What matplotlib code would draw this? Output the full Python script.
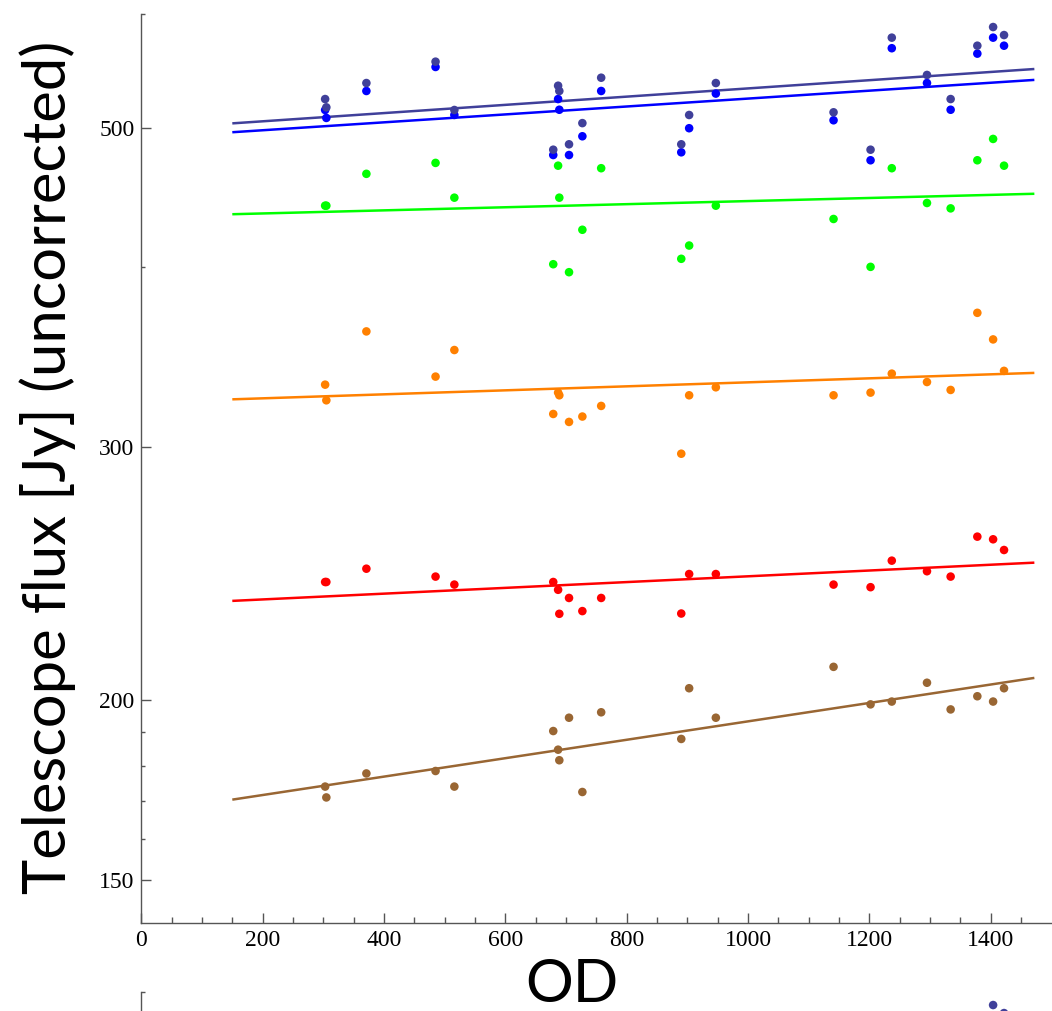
import numpy as np
import matplotlib
matplotlib.use('Agg')
import matplotlib.pyplot as plt
from matplotlib.ticker import FixedLocator, FixedFormatter, NullFormatter

# operational days; ~304 and ~688 each hold two pointings
od = [303, 305, 371, 485, 516, 679, 687, 689, 705, 727, 758,
      890, 903, 947, 1141, 1202, 1237, 1295, 1334, 1378, 1404, 1422]

flux_navy = [523.6, 516.7, 537.2, 555.9, 514.5, 482.8, 534.9, 530.4, 487.0, 503.8, 541.8,
             487.0, 510.4, 537.2, 512.6, 482.8, 577.7, 544.2, 523.6, 570.3, 587.6, 580.1]
flux_blue = [514.5, 508.0, 530.4, 551.2, 510.4, 478.7, 523.6, 514.7, 478.7, 493.3, 530.4,
             480.8, 499.7, 528.2, 506.1, 474.7, 568.0, 537.2, 514.7, 563.1, 577.7, 570.3]
flux_green = [441.4, 441.4, 464.5, 472.7, 447.1, 401.9, 470.6, 447.1, 396.8, 424.7, 468.7,
              405.4, 414.1, 441.4, 432.1, 400.2, 468.7, 443.3, 439.5, 474.7, 491.2, 470.6]
flux_orange = [331.4, 323.2, 360.9, 335.7, 350.3, 316.2, 327.2, 325.8, 312.2, 314.9, 320.3,
               296.7, 325.8, 330.0, 325.8, 327.2, 337.3, 332.8, 328.6, 371.8, 356.3, 338.8]
flux_red = [241.6, 241.6, 246.8, 243.7, 240.6, 241.6, 238.6, 229.6, 235.5, 230.6, 235.5,
            229.7, 244.7, 244.7, 240.6, 239.6, 250.0, 245.8, 243.7, 259.8, 258.7, 254.3]
flux_brown = [174.1, 171.1, 177.8, 178.5, 174.1, 190.3, 184.7, 181.6, 194.4, 172.6, 196.1,
              187.9, 203.8, 194.4, 210.9, 198.6, 199.5, 205.6, 197.0, 201.2, 199.5, 203.8]

# straight-line fits, given at the two ends of the fitted OD range
fit_od = [150, 1472]
fit_navy = [503.6, 549.4]
fit_blue = [496.5, 539.9]
fit_green = [435.4, 449.9]
fit_orange = [323.7, 337.7]
fit_red = [234.4, 249.2]
fit_brown = [170.5, 207.2]

y_major = [150, 200, 300, 500]
y_major_labels = ['150', '200', '300', '500']
y_minor = [160, 170, 180, 190, 400, 600]
x_major = [0, 200, 400, 600, 800, 1000, 1200, 1400]
x_major_labels = ['0', '200', '400', '600', '800', '1000', '1200', '1400']

series = [
    (flux_blue, fit_blue, '#0000ff'),
    (flux_navy, fit_navy, '#40409a'),
    (flux_green, fit_green, '#00ff00'),
    (flux_orange, fit_orange, '#ff8000'),
    (flux_red, fit_red, '#ff0000'),
    (flux_brown, fit_brown, '#996633'),
]

AX_COL = '#555555'
W, H = 1052, 1011


def style_axes(ax, labels=True):
    ax.set_yscale('log')
    ax.set_xlim(0, 1500)
    ax.set_ylim(140, 600)
    for s in ['top', 'right']:
        ax.spines[s].set_visible(False)
    for s in ['left', 'bottom']:
        ax.spines[s].set_color(AX_COL)
        ax.spines[s].set_linewidth(1.0)
    ax.yaxis.set_major_locator(FixedLocator(y_major))
    ax.yaxis.set_minor_locator(FixedLocator(y_minor))
    ax.yaxis.set_minor_formatter(NullFormatter())
    ax.xaxis.set_major_locator(FixedLocator(x_major))
    ax.xaxis.set_minor_locator(FixedLocator([v for v in range(50, 1500, 50) if v % 200]))
    ax.xaxis.set_minor_formatter(NullFormatter())
    if labels:
        ax.yaxis.set_major_formatter(FixedFormatter(y_major_labels))
        ax.xaxis.set_major_formatter(FixedFormatter(x_major_labels))
    else:
        ax.yaxis.set_major_formatter(NullFormatter())
        ax.xaxis.set_major_formatter(NullFormatter())
    ax.tick_params(which='both', direction='in', color=AX_COL, width=1.0,
                   labelsize=17, labelcolor='black')
    ax.tick_params(axis='x', which='major', length=7.5, pad=5)
    ax.tick_params(axis='x', which='minor', length=4.5)
    ax.tick_params(axis='y', which='major', length=7.5, pad=5)
    ax.tick_params(axis='y', which='minor', length=3)
    for lab in ax.get_xticklabels() + ax.get_yticklabels():
        lab.set_family('Liberation Serif')


def draw(ax):
    for flux, fit, col in series:
        ax.plot(fit_od, fit, color=col, lw=1.8, solid_capstyle='butt', zorder=2)
        ax.scatter(od, flux, s=38, color=col, edgecolors='none', zorder=3)


fig = plt.figure(figsize=(W / 100, H / 100), dpi=100)

# main panel: left spine at x=141 px, x axis at y=923 px, top at y=14 px
left = 141.3 / W
width = 1500 * 0.6067 / W
bottom = (H - 922.7) / H
height = (922.7 - 14) / H
ax = fig.add_axes([left, bottom, width, height])
ax.set_facecolor('none')
style_axes(ax)
draw(ax)

# next panel below, only its top edge falls inside the figure
top2 = (H - 992) / H
ax2 = fig.add_axes([left, top2 - height, width, height])
ax2.set_facecolor('none')
style_axes(ax2, labels=False)
ax2.spines['bottom'].set_visible(False)
draw(ax2)

fig.text(48 / W, 1 - 467 / H, 'Telescope flux [Jy] (uncorrected)', rotation=90,
         ha='center', va='center', fontsize=43, family='Lato')
fig.text(572 / W, (H - 1002) / H, 'OD', ha='center', va='baseline',
         fontsize=43, family='Lato')

fig.savefig('out.png', dpi=100, facecolor='white')
